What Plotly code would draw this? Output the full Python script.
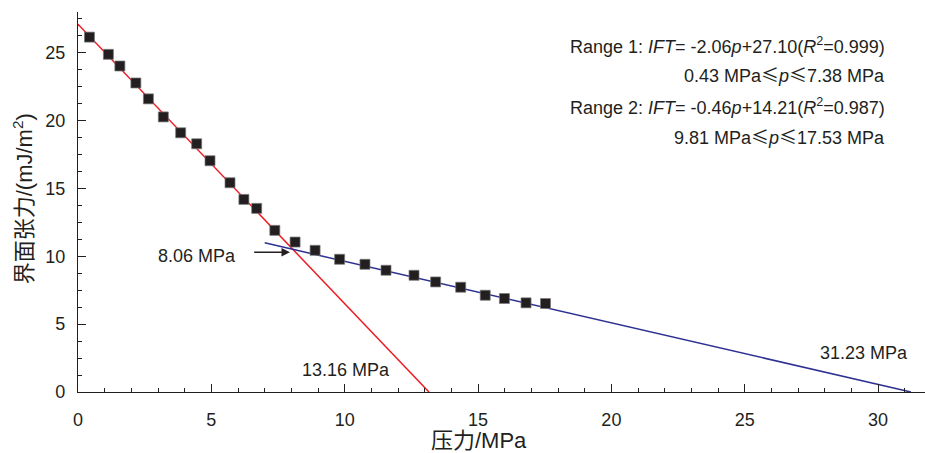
import plotly.graph_objects as go

# Measured interfacial tension vs. pressure
pressure = [0.43, 1.14, 1.57, 2.17, 2.64, 3.20, 3.85, 4.45, 4.95, 5.70, 6.22, 6.70, 7.38,
            8.14, 8.89, 9.81, 10.76, 11.55, 12.60, 13.41, 14.35, 15.27, 15.99, 16.80, 17.53]
ift = [26.15, 24.88, 24.02, 22.77, 21.60, 20.27, 19.10, 18.29, 17.04, 15.42, 14.19, 13.53, 11.91,
       11.05, 10.44, 9.78, 9.41, 8.97, 8.60, 8.11, 7.72, 7.13, 6.89, 6.57, 6.52]

# Linear fits: IFT = slope * p + intercept
fit1_slope, fit1_intercept = -2.06, 27.10
fit2_slope, fit2_intercept = -0.46, 14.21
fit1_zero = 13.16      # x-intercept of fit 1 (MPa)
fit2_zero = 31.23      # x-intercept of fit 2 (MPa)
fit2_start = 7.0
cross_p = 8.06         # intersection of the two fits (MPa)

FONT = "Liberation Sans, Arial, Noto Sans CJK SC"
TXT = "#231f20"
LE = '<span style="font-family:Noto Sans CJK SC">≤</span>'

fig = go.Figure()

fig.add_trace(go.Scatter(
    x=[0, fit1_zero], y=[fit1_intercept, 0], mode="lines",
    line=dict(color="#ed1c24", width=1.5), hoverinfo="skip"))

fig.add_trace(go.Scatter(
    x=[fit2_start, fit2_zero],
    y=[fit2_slope * fit2_start + fit2_intercept, 0], mode="lines",
    line=dict(color="#2e3192", width=1.5), hoverinfo="skip"))

fig.add_trace(go.Scatter(
    x=pressure, y=ift, mode="markers",
    marker=dict(symbol="square", size=10, color="#231f20",
                line=dict(color="rgba(120,120,120,0.7)", width=1))))

cross_y = fit1_slope * cross_p + fit1_intercept

annotations = [
    dict(x=30.32, y=25.55, xanchor="right", yanchor="middle", showarrow=False,
         text="Range 1: <i>IFT</i>= -2.06<i>p</i>+27.10(<i>R</i><sup>2</sup>=0.999)"),
    dict(x=30.32, y=23.42, xanchor="right", yanchor="middle", showarrow=False,
         text="0.43 MPa" + LE + "<i>p</i>" + LE + "7.38 MPa"),
    dict(x=30.32, y=21.07, xanchor="right", yanchor="middle", showarrow=False,
         text="Range 2: <i>IFT</i>= -0.46<i>p</i>+14.21(<i>R</i><sup>2</sup>=0.987)"),
    dict(x=30.32, y=18.86, xanchor="right", yanchor="middle", showarrow=False,
         text="9.81 MPa" + LE + "<i>p</i>" + LE + "17.53 MPa"),
    dict(x=4.45, y=10.04, showarrow=False, text="8.06 MPa"),
    dict(x=cross_p, y=cross_y - 0.2, ax=6.55, ay=cross_y - 0.2, axref="x", ayref="y",
         text="", showarrow=True, arrowhead=2, arrowsize=1.3, arrowwidth=1.3,
         arrowcolor="#231f20", standoff=3),
    dict(x=10.04, y=1.6, showarrow=False, text="13.16 MPa"),
    dict(x=29.47, y=2.88, showarrow=False, text="31.23 MPa"),
    # axis titles
    dict(x=15.04, xref="x", y=0, yref="paper", yanchor="middle", yshift=-48,
         showarrow=False, text="压力/MPa", font=dict(size=22)),
    dict(x=(23 - 78) / 847.0, xref="paper", xanchor="center", y=14.2, yref="y",
         showarrow=False, text="界面张力/(mJ/m<sup>2</sup>)", textangle=-90,
         font=dict(size=22)),
]

fig.update_layout(
    width=925, height=453,
    margin=dict(l=78, r=0, t=12, b=61),
    plot_bgcolor="white", paper_bgcolor="white",
    showlegend=False,
    font=dict(family=FONT, size=18, color=TXT),
    annotations=annotations,
)

fig.update_xaxes(
    range=[0, 31.76], tickmode="linear", tick0=0, dtick=5,
    ticks="inside", ticklen=8, tickwidth=1.2, tickcolor=TXT,
    showline=True, linecolor=TXT, linewidth=1.3, mirror=False,
    showgrid=False, zeroline=False,
    tickfont=dict(size=18, color=TXT), ticklabelstandoff=11,
    minor=dict(ticks="inside", dtick=1, ticklen=4, tickwidth=1, tickcolor=TXT),
)
fig.update_yaxes(
    range=[0, 28], tickmode="linear", tick0=0, dtick=5,
    ticks="inside", ticklen=8, tickwidth=1.2, tickcolor=TXT,
    showline=True, linecolor=TXT, linewidth=1.3, mirror=False,
    showgrid=False, zeroline=False,
    tickfont=dict(size=18, color=TXT), ticklabelstandoff=8,
    minor=dict(ticks="inside", dtick=1.25, ticklen=4, tickwidth=1, tickcolor=TXT),
)

fig.write_html("out.html")
